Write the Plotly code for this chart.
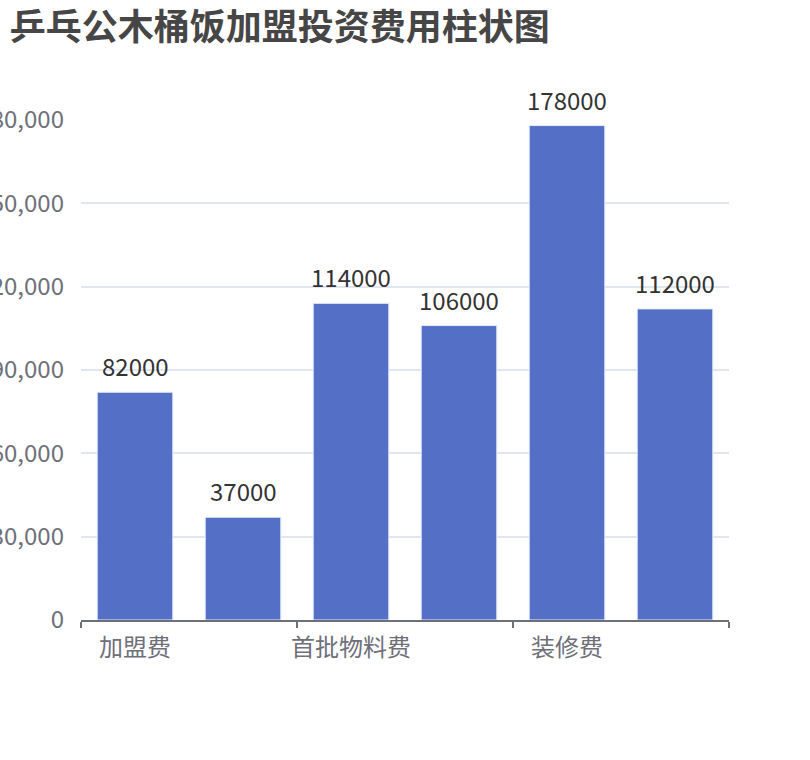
import plotly.graph_objects as go

title = "乒乓公木桶饭加盟投资费用柱状图"
categories = ["加盟费", "保证金", "首批物料费", "设备费", "装修费", "流动资金"]
values = [82000, 37000, 114000, 106000, 178000, 112000]
y_ticks = [0, 30000, 60000, 90000, 120000, 150000, 180000]

idx = list(range(len(categories)))
shown = idx[::2]

FONT = "Noto Sans CJK SC, Noto Sans, sans-serif"

fig = go.Figure(go.Bar(
    x=idx, y=values,
    marker=dict(color="#5470c6", line=dict(color="#e6ecfa", width=1)),
    width=0.7,
    hovertext=categories,
))

for i, v in zip(idx, values):
    fig.add_annotation(x=i, y=v, text=str(v), showarrow=False,
                       xanchor="center", yanchor="bottom", yshift=7,
                       font=dict(size=24, color="#333333", family=FONT))

fig.update_layout(
    width=810, height=760,
    paper_bgcolor="white", plot_bgcolor="white",
    margin=dict(l=81, r=81, t=120, b=140, autoexpand=False),
    title=dict(text="<b>" + title + "</b>", x=0.012, xanchor="left", y=0.964, yanchor="middle",
               pad=dict(l=0, r=0, t=0, b=0),
               font=dict(size=36, color="#464646", family=FONT)),
    showlegend=False,
    font=dict(family=FONT),
)

fig.update_xaxes(
    range=[-0.5, len(categories) - 0.5],
    tickvals=shown, ticktext=[categories[i] for i in shown],
    ticks="", showgrid=False, zeroline=False,
    showline=True, linecolor="#6e7079", linewidth=1.5,
    tickfont=dict(size=24, color="#6e7079", family=FONT),
    ticklabelstandoff=5,
    minor=dict(tickvals=[i - 0.5 for i in idx[::2]] + [len(categories) - 0.5],
               ticks="outside", ticklen=6, tickcolor="#6e7079", tickwidth=1.5, showgrid=False),
    automargin=False, fixedrange=True,
)

fig.update_yaxes(
    range=[0, 180000],
    tickvals=y_ticks, ticktext=[f"{v:,}" for v in y_ticks],
    ticks="", showline=False, zeroline=False,
    showgrid=True, gridcolor="#e0e6f1", gridwidth=1.5,
    tickfont=dict(size=24, color="#6e7079", family=FONT),
    ticklabelstandoff=16,
    automargin=False, fixedrange=True,
)

fig.write_html("out.html", config={"displayModeBar": False},
               post_script="document.body.style.margin='0px';")
